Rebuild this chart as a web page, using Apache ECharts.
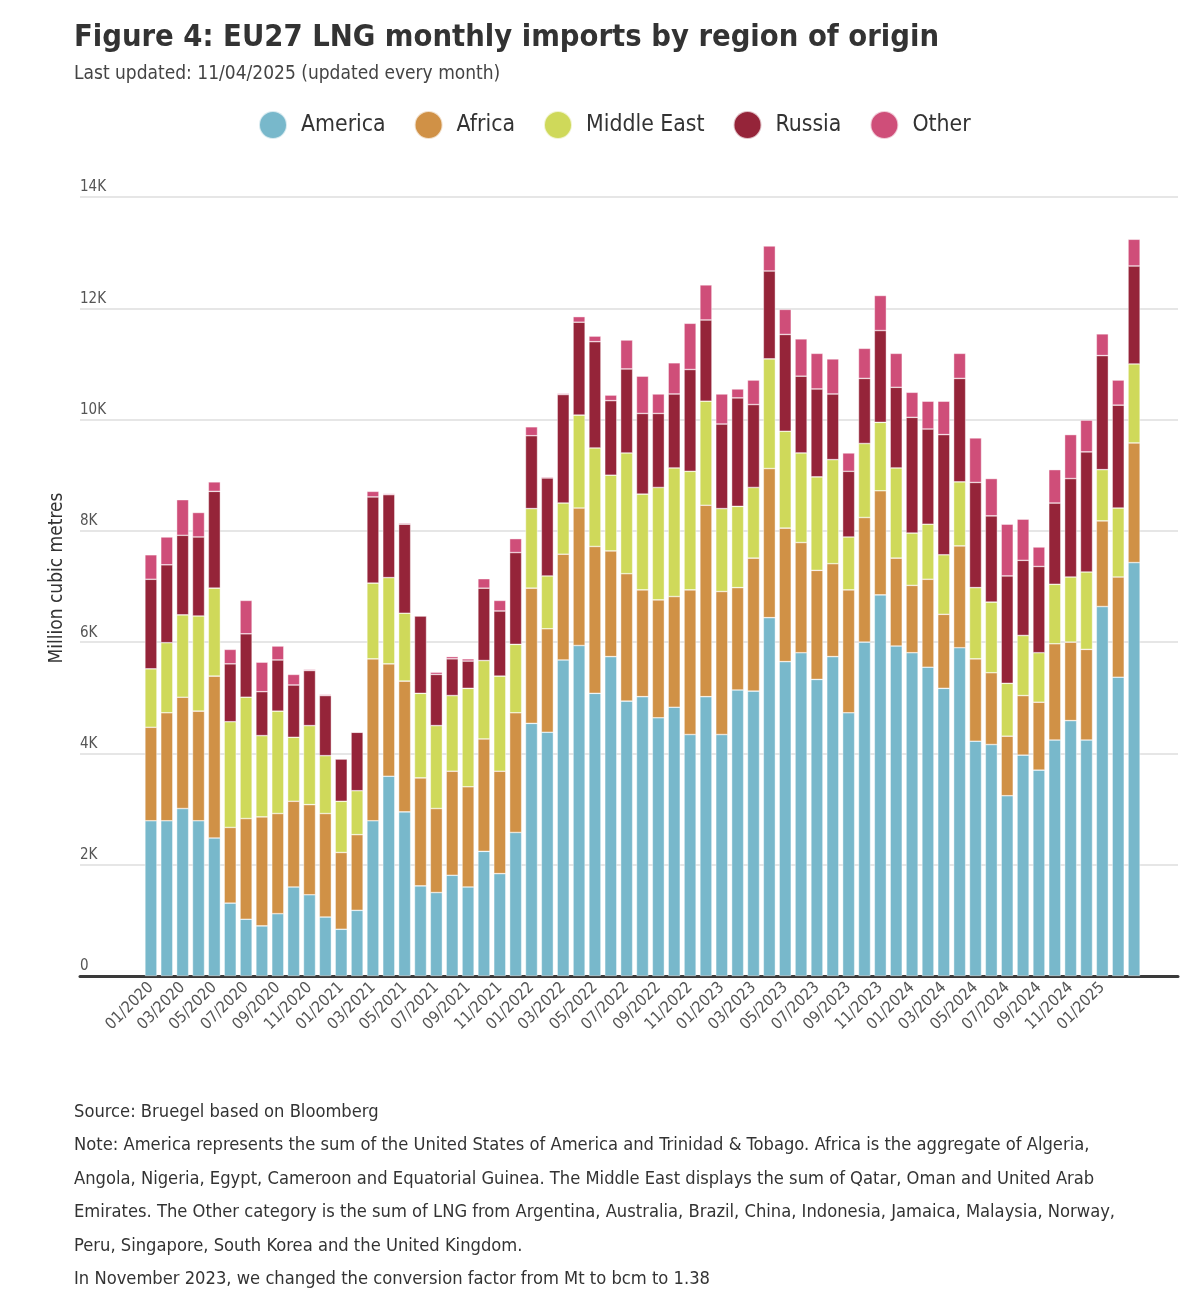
<!DOCTYPE html>
<html>
<head>
<meta charset="utf-8">
<script src="https://cdn.jsdelivr.net/npm/echarts@6/dist/echarts.min.js"></script>
<style>
html,body{margin:0;padding:0;background:#fff;}
#chart{width:1200px;height:1306px;}
</style>
</head>
<body>
<div id="chart"></div>
<script>
// Months 01/2020 .. 03/2025
var months = [];
for (var y = 2020; y <= 2025; y++) {
  for (var m = 1; m <= 12; m++) {
    if (y === 2025 && m > 3) break;
    months.push((m < 10 ? '0' + m : '' + m) + '/' + y);
  }
}
// Million cubic metres
var america = [2790,2790,3010,2790,2480,1310,1020,900,1120,1600,1460,1060,
  840,1180,2790,3590,2950,1620,1500,1810,1600,2240,1840,2580,
  4540,4380,5680,5940,5080,5740,4940,5020,4640,4830,4340,5020,
  4340,5140,5120,6440,5650,5810,5330,5740,4730,6000,6850,5930,
  5810,5550,5170,5900,4220,4160,3240,3970,3700,4240,4590,4240,
  6640,5370,7430];
var africa = [1680,1940,2000,1970,2910,1360,1810,1960,1800,1540,1620,1860,
  1380,1360,2910,2020,2350,1940,1510,1870,1800,2020,1840,2150,
  2430,1860,1900,2470,2640,1900,2290,1920,2120,1990,2600,3440,
  2570,1840,2390,2680,2400,1980,1960,1670,2210,2240,1870,1580,
  1210,1580,1330,1830,1480,1290,1070,1070,1220,1730,1410,1630,
  1540,1800,2150];
var middleEast = [1050,1260,1480,1710,1580,1900,2180,1460,1840,1150,1420,1040,
  920,790,1360,1550,1220,1520,1490,1360,1770,1410,1710,1230,
  1430,950,920,1670,1770,1360,2170,1720,2020,2310,2130,1870,
  1490,1460,1270,1970,1740,1610,1680,1870,950,1330,1230,1620,
  940,990,1070,1150,1280,1270,950,1080,890,1070,1170,1390,
  920,1240,1420];
var russia = [1610,1400,1430,1420,1740,1040,1140,790,920,940,990,1080,
  760,1050,1550,1490,1600,1390,920,660,490,1300,1170,1650,
  1310,1760,1950,1670,1910,1340,1510,1450,1330,1330,1830,1460,
  1520,1950,1490,1580,1740,1380,1580,1180,1180,1170,1650,1450,
  2080,1710,2160,1860,1890,1550,1930,1350,1550,1460,1770,2160,
  2050,1850,1760];
var other = [440,500,640,440,170,260,600,530,250,190,20,20,
  10,10,100,20,20,10,40,40,40,170,190,250,
  160,20,20,100,100,100,520,670,350,560,830,630,
  540,160,440,450,450,670,640,630,330,540,630,610,
  450,500,600,450,800,670,930,740,350,600,790,570,
  390,450,480];
var yTicks = [0, 2000, 4000, 6000, 8000, 10000, 12000, 14000];

var seriesNames = ['America', 'Africa', 'Middle East', 'Russia', 'Other'];
var seriesData = [america, africa, middleEast, russia, other];
var colors = ['#78b8cb', '#d09146', '#cfd95a', '#952439', '#cf4e79'];

var FONT = "'Liberation Sans Narrow', 'DejaVu Sans Condensed', 'Liberation Sans', sans-serif";

var chart = echarts.init(document.getElementById('chart'), null, {renderer: 'canvas'});

var series = seriesNames.map(function (name, i) {
  return {
    name: name,
    type: 'bar',
    stack: 'total',
    xAxisIndex: 1,
    yAxisIndex: 1,
    data: seriesData[i],
    barCategoryGap: '24%',
    itemStyle: {color: colors[i], borderColor: 'rgba(255,255,255,0.7)', borderWidth: 0.6},
    emphasis: {disabled: true}
  };
});

var footer = [
  'Source: Bruegel based on Bloomberg',
  'Note: America represents the sum of the United States of America and Trinidad & Tobago. Africa is the aggregate of Algeria,',
  'Angola, Nigeria, Egypt, Cameroon and Equatorial Guinea. The Middle East displays the sum of Qatar, Oman and United Arab',
  'Emirates. The Other category is the sum of LNG from Argentina, Australia, Brazil, China, Indonesia, Jamaica, Malaysia, Norway,',
  'Peru, Singapore, South Korea and the United Kingdom.',
  'In November 2023, we changed the conversion factor from Mt to bcm to 1.38'
];
var graphics = [
  {type: 'text', left: 74, top: 23, style: {text: 'Figure 4: EU27 LNG monthly imports by region of origin', font: 'bold 30.6px ' + FONT, fill: '#333'}},
  {type: 'text', left: 74, top: 65, style: {text: 'Last updated: 11/04/2025 (updated every month)', font: '19px ' + FONT, fill: '#444'}},
  {type: 'text', x: 57, y: 578, rotation: Math.PI / 2, style: {text: 'Million cubic metres', font: '19px ' + FONT, fill: '#333', align: 'center', verticalAlign: 'middle'}}
];
footer.forEach(function (t, i) {
  graphics.push({type: 'text', x: 74, y: 1112 + i * 33.5, style: {text: t, font: '18.2px ' + FONT, fill: '#333', verticalAlign: 'middle'}});
});

chart.setOption({
  animation: false,
  color: colors,
  legend: {
    data: seriesNames,
    left: 253,
    top: 105,
    icon: 'circle',
    itemWidth: 28,
    itemHeight: 28,
    itemGap: 28,
    selectedMode: false,
    textStyle: {fontSize: 22.8, color: '#333', fontFamily: FONT, padding: [0, 0, 0, 9]}
  },
  grid: [
    {left: 80, right: 22, top: 197, bottom: 330},
    {left: 143, right: 58, top: 197, bottom: 330}
  ],
  xAxis: [
    {type: 'value', gridIndex: 0, min: 0, max: 1, axisLabel: {show: false}, axisTick: {show: false}, splitLine: {show: false},
     axisLine: {show: true, lineStyle: {color: '#3a3a3a', width: 3}}},
    {type: 'category', gridIndex: 1, data: months, axisLine: {show: false}, axisTick: {show: false},
     axisLabel: {interval: function (index) { return index % 2 === 0 && index < months.length - 1; },
       rotate: 45, fontSize: 16, color: '#555', fontFamily: FONT, margin: 9}}
  ],
  yAxis: [
    {type: 'value', gridIndex: 0, min: yTicks[0], max: yTicks[yTicks.length - 1], interval: 2000,
     axisLine: {show: false}, axisTick: {show: false},
     axisLabel: {inside: true, margin: 0, align: 'left', verticalAlign: 'bottom', padding: [0, 0, 2, 0], fontSize: 15, color: '#555', fontFamily: FONT,
       formatter: function (v) { return v === 0 ? '0' : (v / 1000) + 'K'; }},
     splitLine: {lineStyle: {color: '#dedede', width: 1.5}}},
    {type: 'value', gridIndex: 1, min: yTicks[0], max: yTicks[yTicks.length - 1], interval: 2000,
     axisLine: {show: false}, axisTick: {show: false}, axisLabel: {show: false}, splitLine: {show: false}}
  ],
  series: series,
  graphic: graphics
});
</script>
</body>
</html>
